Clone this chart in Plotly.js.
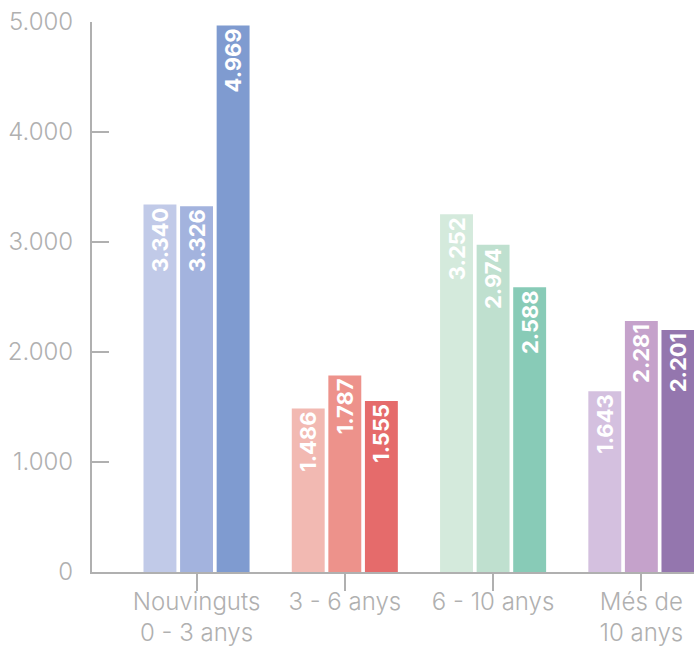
<!DOCTYPE html>
<html>
<head>
<meta charset="utf-8">
<script src="https://cdn.plot.ly/plotly-3.0.1.min.js"></script>
<style>html,body{margin:0;padding:0;background:#fff;}#chart{width:694px;height:647px;}</style>
</head>
<body>
<div id="chart"></div>
<script>
const categories = ["Nouvinguts<br>0 - 3 anys", "3 - 6 anys", "6 - 10 anys", "Més de<br>10 anys"];
const series1 = [3340, 1486, 3252, 1643];
const series2 = [3326, 1787, 2974, 2281];
const series3 = [4969, 1555, 2588, 2201];
const colors1 = ["#c1cae8", "#f2b9b2", "#d4eadc", "#d4c0df"];
const colors2 = ["#a3b3de", "#ed928b", "#bfe0cf", "#c5a2cb"];
const colors3 = ["#7f9bd0", "#e56b6b", "#88cbb7", "#9476ae"];
const yTicks = [0, 1000, 2000, 3000, 4000, 5000];

function trace(vals, cols) {
  return {
    type: "bar",
    x: categories,
    y: vals,
    marker: {color: cols, line: {width: 0}},
    texttemplate: "%{y:,}",
    textposition: "inside",
    insidetextanchor: "end",
    textangle: -90,
    constraintext: "none",
    textfont: {family: "Inter, sans-serif", size: 22, color: "#ffffff", weight: 700},
    hoverinfo: "skip"
  };
}

const data = [trace(series1, colors1), trace(series2, colors2), trace(series3, colors3)];

const layout = {
  width: 694, height: 647,
  margin: {l: 92, r: 0, t: 22, b: 75},
  paper_bgcolor: "#fff", plot_bgcolor: "#fff",
  separators: ",.",
  showlegend: false,
  barmode: "group",
  bargap: 0.26,
  bargroupgap: 0.1,
  uniformtext: {mode: "show", minsize: 22},
  font: {family: "Inter, sans-serif", color: "#b0b0b0"},
  xaxis: {
    type: "category",
    range: [-0.705, 3.355],
    showline: true, linecolor: "#b0b0b0", linewidth: 2,
    ticks: "outside", ticklen: 17, tickwidth: 2, tickcolor: "#b0b0b0",
    ticklabelstandoff: -10,
    tickfont: {family: "Inter, sans-serif", size: 24, color: "#b0b0b0", weight: 300},
    showgrid: false, zeroline: false, fixedrange: true
  },
  yaxis: {
    range: [0, 5000],
    tickvals: yTicks,
    tickformat: ",d",
    separatethousands: true,
    showline: true, linecolor: "#b0b0b0", linewidth: 2,
    ticks: "inside", ticklen: 17, tickwidth: 2, tickcolor: "#b0b0b0",
    ticklabelstandoff: 12,
    tickfont: {family: "Inter, sans-serif", size: 24, color: "#b0b0b0", weight: 300},
    showgrid: false, zeroline: false, fixedrange: true
  }
};

Plotly.newPlot("chart", data, layout, {displayModeBar: false, staticPlot: true});
</script>
</body>
</html>
